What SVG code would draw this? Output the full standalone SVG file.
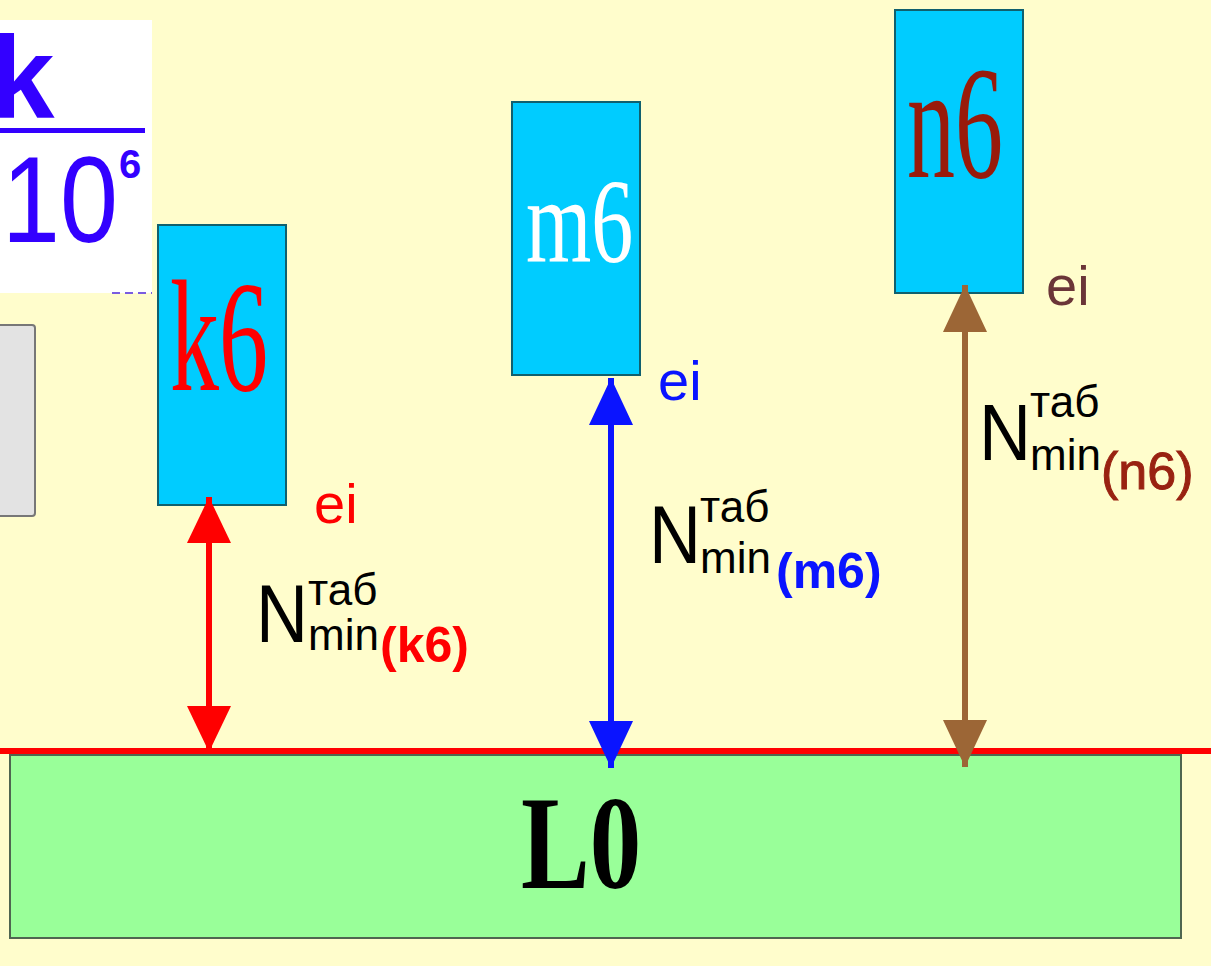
<svg xmlns="http://www.w3.org/2000/svg" width="1211" height="966" viewBox="0 0 1211 966">
<style>
.sans{font-family:"Liberation Sans",Arial,sans-serif}
.serif{font-family:"Liberation Serif","Times New Roman",serif}
.shaft{stroke-width:6;fill:none}
.box{fill:#00CCFF;stroke:#10606E;stroke-width:2}
</style>
<defs>
<marker id="hr" markerUnits="userSpaceOnUse" markerWidth="46" markerHeight="44" viewBox="0 0 46 44" refX="46" refY="22" orient="auto-start-reverse"><path d="M0,0 L46,22 L0,44 Z" fill="#FF0000"/></marker>
<marker id="hb" markerUnits="userSpaceOnUse" markerWidth="47" markerHeight="44" viewBox="0 0 47 44" refX="47" refY="22" orient="auto-start-reverse"><path d="M0,0 L47,22 L0,44 Z" fill="#0A14FF"/></marker>
<marker id="hn" markerUnits="userSpaceOnUse" markerWidth="47" markerHeight="44" viewBox="0 0 47 44" refX="47" refY="22" orient="auto-start-reverse"><path d="M0,0 L47,22 L0,44 Z" fill="#9C6636"/></marker>
</defs>
<rect x="0" y="0" width="1211" height="966" fill="#FFFDCC"/>

<g id="formula">
<rect x="0" y="20" width="152" height="273" fill="#FFFFFF"/>
<text class="sans" x="-10" y="118" font-size="116" font-weight="bold" fill="#3300FF">k</text>
<rect x="0" y="128" width="145" height="5" fill="#3300FF"/>
<text class="sans" x="2" y="242" font-size="122" fill="#3300FF" textLength="116" lengthAdjust="spacingAndGlyphs">10</text>
<text class="sans" x="119" y="178" font-size="40" font-weight="bold" fill="#3300FF">6</text>
<line x1="112" y1="293" x2="152" y2="293" stroke="#7A5CE0" stroke-width="2" stroke-dasharray="8,5"/>
</g>

<g id="grey">
<rect x="-6" y="325" width="41" height="191" rx="3" fill="#E3E3E3" stroke="#777777" stroke-width="2"/>
</g>

<g id="L0">
<rect x="10" y="755" width="1171" height="183" fill="#99FF99" stroke="#4F6650" stroke-width="2"/>
<text class="serif" transform="translate(521,888) scale(1,1.29)" font-size="103" font-weight="bold" fill="#000000">L0</text>
</g>

<line x1="0" y1="751" x2="1211" y2="751" stroke="#FF0000" stroke-width="6"/>

<g id="k6">
<rect class="box" x="158" y="225" width="128" height="280"/>
<text class="serif" transform="translate(170,390) scale(1,1.62)" font-size="98" fill="#FF0000">k6</text>
<text class="sans" x="314" y="523" font-size="56" fill="#FF0000">ei</text>
</g>

<g id="m6">
<rect class="box" x="512" y="102" width="128" height="273"/>
<text class="serif" transform="translate(526,262) scale(1,1.44)" font-size="84" fill="#FFFFFF">m6</text>
<text class="sans" x="658" y="400" font-size="56" fill="#0A14FF">ei</text>
</g>

<g id="n6">
<rect class="box" x="895" y="10" width="128" height="283"/>
<text class="serif" transform="translate(907,177) scale(1,1.68)" font-size="96" fill="#991A0A">n6</text>
<text class="sans" x="1046" y="305" font-size="56" fill="#6B3538">ei</text>
</g>

<g id="connectors">
<line class="shaft" x1="209" y1="497" x2="209" y2="752" stroke="#FF0000" marker-start="url(#hr)" marker-end="url(#hr)"/>
<line class="shaft" x1="611" y1="378" x2="611" y2="768" stroke="#0A14FF" marker-start="url(#hb)" marker-end="url(#hb)"/>
<line class="shaft" x1="965" y1="285" x2="965" y2="767" stroke="#9C6636" marker-start="url(#hn)" marker-end="url(#hn)"/>
</g>

<g id="label-k6">
<text class="sans" x="256" y="642" font-size="82" fill="#000000" textLength="52" lengthAdjust="spacingAndGlyphs">N</text>
<text class="sans" x="308" y="605" font-size="44" fill="#000000">таб</text>
<text class="sans" x="308" y="650" font-size="44" fill="#000000">min</text>
<text class="sans" x="380" y="662" font-size="50" font-weight="bold" fill="#FF0000">(k6)</text>
</g>

<g id="label-m6">
<text class="sans" x="649" y="563" font-size="82" fill="#000000" textLength="52" lengthAdjust="spacingAndGlyphs">N</text>
<text class="sans" x="700" y="522" font-size="44" fill="#000000">таб</text>
<text class="sans" x="700" y="573" font-size="44" fill="#000000">min</text>
<text class="sans" x="776" y="588" font-size="50" font-weight="bold" fill="#0A14FF">(m6)</text>
</g>

<g id="label-n6">
<text class="sans" x="979" y="460" font-size="80" fill="#000000" textLength="52" lengthAdjust="spacingAndGlyphs">N</text>
<text class="sans" x="1030" y="417" font-size="44" fill="#000000">таб</text>
<text class="sans" x="1030" y="470" font-size="44" fill="#000000">min</text>
<text class="sans" x="1101" y="489" font-size="52" fill="#992211" stroke="#992211" stroke-width="1">(n6)</text>
</g>
</svg>
